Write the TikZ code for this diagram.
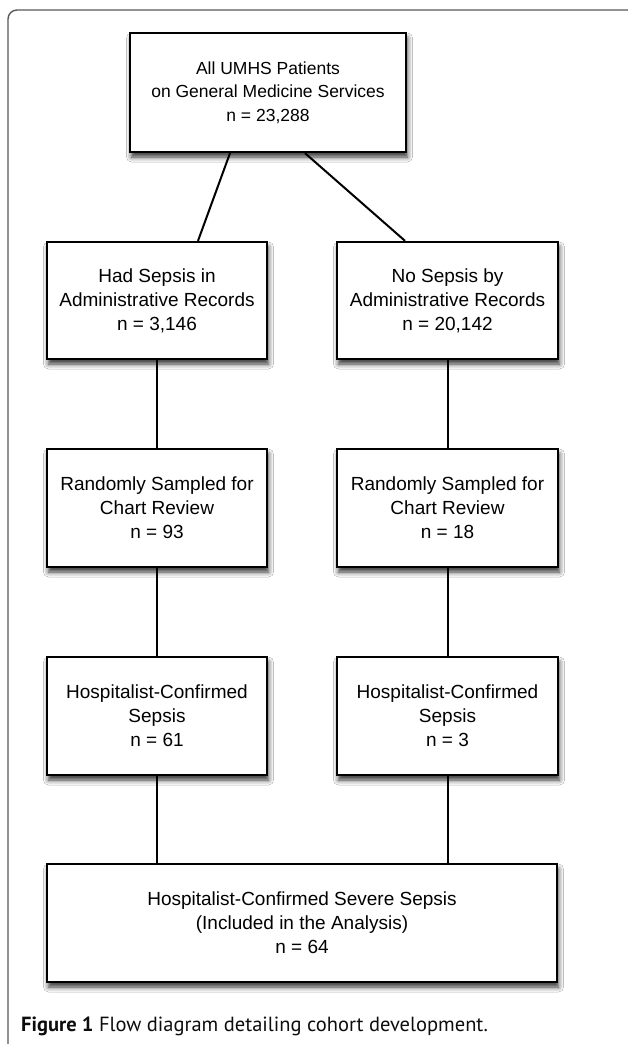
\documentclass[tikz,border=0pt]{standalone}
\usepackage{fontspec}
\setmainfont{Liberation Sans}
\newfontfamily\capfont{PT Sans}
\usetikzlibrary{shadows.blur}
\begin{document}
\begin{tikzpicture}[x=1pt,y=-1pt,
  box/.style={draw=black, line width=2.3pt, fill=white, align=center, inner sep=0pt,
    font=\fontsize{19}{24}\selectfont,
    blur shadow={shadow xshift=1.5pt, shadow yshift=-5pt, shadow blur radius=5pt, shadow opacity=80}},
  link/.style={line width=2pt, draw=black}]
\useasboundingbox (0,0) rectangle (627,1044);
\fill[white] (0,0) rectangle (627,1044);
\draw[line width=1.4pt, draw=black!65, rounded corners=9pt] (8,1070) -- (8,10) -- (660,10);

\node[box, minimum width=276pt, minimum height=119pt, font=\fontsize{17.5}{23.5}\selectfont] (top) at (268,92.5)
  {All UMHS Patients\\on General Medicine Services\\n = 23,288};
\node[box, minimum width=220pt, minimum height=117pt] (L1) at (157,300.5)
  {Had Sepsis in\\Administrative Records\\n = 3,146};
\node[box, minimum width=221pt, minimum height=117pt] (R1) at (447.5,300.5)
  {No Sepsis by\\Administrative Records\\n = 20,142};
\node[box, minimum width=220pt, minimum height=118pt] (L2) at (157,508)
  {Randomly Sampled for\\Chart Review\\n = 93};
\node[box, minimum width=221pt, minimum height=118pt] (R2) at (447.5,508)
  {Randomly Sampled for\\Chart Review\\n = 18};
\node[box, minimum width=220pt, minimum height=118pt] (L3) at (157,716)
  {Hospitalist-Confirmed\\Sepsis\\n = 61};
\node[box, minimum width=221pt, minimum height=118pt] (R3) at (447.5,716)
  {Hospitalist-Confirmed\\Sepsis\\n = 3};
\node[box, minimum width=510pt, minimum height=118pt] (bot) at (302,923)
  {Hospitalist-Confirmed Severe Sepsis\\(Included in the Analysis)\\n = 64};

\draw[link] ([xshift=-38pt]top.south) -- ([xshift=41pt]L1.north);
\draw[link] ([xshift=37pt]top.south) -- ([xshift=-42.5pt]R1.north);
\draw[link] (L1.south) -- (L2.north);
\draw[link] (R1.south) -- (R2.north);
\draw[link] (L2.south) -- (L3.north);
\draw[link] (R2.south) -- (R3.north);
\draw[link] (L3.south) -- (L3.south |- bot.north);
\draw[link] (R3.south) -- (R3.south |- bot.north);

\node[anchor=base west, inner sep=0pt, font=\capfont\fontsize{20.5}{24}\selectfont, text=black!95] (cap) at (21,1031)
  {\textbf{Figure 1} Flow diagram detailing cohort development.};
\end{tikzpicture}
\end{document}
